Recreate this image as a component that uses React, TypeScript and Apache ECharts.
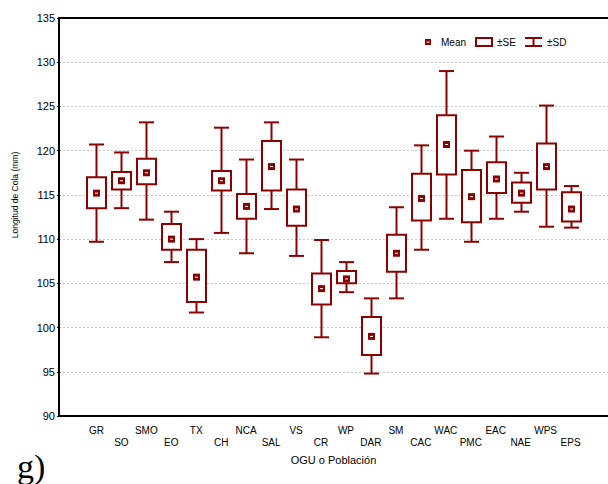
import React, { useEffect, useRef } from "react";
import * as echarts from "echarts";

const categories = ["GR", "SO", "SMO", "EO", "TX", "CH", "NCA", "SAL", "VS", "CR", "WP", "DAR", "SM", "CAC", "WAC", "PMC", "EAC", "NAE", "WPS", "EPS"];
const means = [115.2, 116.6, 117.5, 110.0, 105.7, 116.6, 113.7, 118.2, 113.4, 104.4, 105.5, 99.0, 108.4, 114.6, 120.7, 114.8, 116.8, 115.2, 118.2, 113.4];
const seLow = [113.5, 115.6, 116.2, 108.8, 102.9, 115.5, 112.3, 115.5, 111.5, 102.6, 105.0, 96.9, 106.3, 112.1, 117.3, 111.9, 115.2, 114.1, 115.6, 112.0];
const seHigh = [117.0, 117.6, 119.1, 111.7, 108.8, 117.7, 115.1, 121.1, 115.6, 106.1, 106.4, 101.2, 110.5, 117.4, 124.0, 117.8, 118.7, 116.4, 120.8, 115.3];
const sdLow = [109.7, 113.5, 112.2, 107.4, 101.7, 110.7, 108.4, 113.4, 108.1, 98.9, 104.0, 94.8, 103.3, 108.8, 112.3, 109.7, 112.3, 113.1, 111.4, 111.3];
const sdHigh = [120.7, 119.8, 123.2, 113.1, 110.0, 122.6, 119.0, 123.2, 119.0, 109.9, 107.4, 103.3, 113.6, 120.6, 129.0, 120.0, 121.6, 117.5, 125.1, 116.0];
const yTicks = { min: 90, max: 135, interval: 5 };

const RED = "#8b0000";
const FONT = "Liberation Sans, Arial, sans-serif";

export default function App() {
  const ref = useRef<HTMLDivElement>(null);
  useEffect(() => {
    if (!ref.current) return;
    const chart = echarts.init(ref.current, undefined, { renderer: "svg" });
    const axisCats = ["", ...categories, ""];
    const data = categories.map((c, i) => [i + 1, means[i], seLow[i], seHigh[i], sdLow[i], sdHigh[i]]);

    const renderItem = (params: any, api: any) => {
      const idx = api.value(0);
      const pMean = api.coord([idx, api.value(1)]);
      const pSeL = api.coord([idx, api.value(2)]);
      const pSeH = api.coord([idx, api.value(3)]);
      const pSdL = api.coord([idx, api.value(4)]);
      const pSdH = api.coord([idx, api.value(5)]);
      const x = Math.round(pMean[0]) + 0.5;
      const boxHalf = 9.5;
      const capHalf = 7.5;
      const lineStyle = { stroke: RED, lineWidth: 2, fill: null };
      return {
        type: "group",
        children: [
          { type: "line", shape: { x1: x, y1: pSdL[1], x2: x, y2: pSdH[1] }, style: lineStyle },
          { type: "line", shape: { x1: x - capHalf, y1: pSdL[1], x2: x + capHalf, y2: pSdL[1] }, style: lineStyle },
          { type: "line", shape: { x1: x - capHalf, y1: pSdH[1], x2: x + capHalf, y2: pSdH[1] }, style: lineStyle },
          {
            type: "rect",
            shape: { x: x - boxHalf, y: pSeH[1], width: boxHalf * 2, height: pSeL[1] - pSeH[1] },
            style: { stroke: RED, lineWidth: 2, fill: "#ffffff" },
          },
          { type: "rect", shape: { x: x - 3.5, y: pMean[1] - 3.5, width: 7, height: 7 }, style: { fill: RED } },
          { type: "rect", shape: { x: x - 1.5, y: pMean[1] - 0.5, width: 3, height: 1 }, style: { fill: "#ffffff" } },
        ],
      };
    };

    chart.setOption({
      animation: false,
      backgroundColor: "#ffffff",
      textStyle: { fontFamily: FONT },
      grid: { left: 59, top: 18, width: 554, bottom: 68, containLabel: false },
      xAxis: [
        {
          type: "category",
          data: axisCats,
          boundaryGap: true,
          position: "bottom",
          name: "OGU o Población",
          nameLocation: "middle",
          nameGap: 38,
          nameTextStyle: { fontSize: 11, color: "#000", fontFamily: FONT },
          axisLine: { lineStyle: { color: "#000", width: 2 } },
          axisTick: { alignWithLabel: true, inside: true, length: 3, lineStyle: { color: "#000", width: 1 } },
          axisLabel: {
            interval: 0,
            fontSize: 10,
            color: "#000",
            margin: 8,
            lineHeight: 12,
            fontFamily: FONT,
            formatter: (v: string, i: number) => (i % 2 === 0 ? "\n" + v : v),
          },
          splitLine: { show: false },
        },
        {
          type: "category",
          data: axisCats,
          boundaryGap: true,
          position: "top",
          axisLine: { lineStyle: { color: "#000", width: 2 } },
          axisTick: { alignWithLabel: true, inside: true, length: 3, lineStyle: { color: "#000", width: 1 } },
          axisLabel: { show: false },
          splitLine: { show: false },
        },
      ],
      yAxis: {
        type: "value",
        min: yTicks.min,
        max: yTicks.max,
        interval: yTicks.interval,
        axisLine: { show: true, lineStyle: { color: "#000", width: 2 } },
        axisTick: { show: true, inside: false, length: 2, lineStyle: { color: "#000", width: 1 } },
        axisLabel: { fontSize: 11, color: "#000", margin: 4, fontFamily: FONT },
        splitLine: { show: true, lineStyle: { color: "#c8c8c8", type: [2, 2], width: 1 } },
      },
      series: [
        {
          name: "Mean ±SE ±SD",
          type: "custom",
          renderItem,
          encode: { x: 0, y: [1, 2, 3, 4, 5] },
          data,
          z: 5,
        },
      ],
      graphic: [
        {
          type: "text",
          x: 15,
          y: 195,
          rotation: Math.PI / 2,
          style: { text: "Longitud de Cola (mm)", fill: "#000", font: "8.5px " + FONT, align: "center", verticalAlign: "middle" },
        },
        { type: "rect", shape: { x: 425, y: 39, width: 6, height: 6 }, style: { fill: RED } },
        { type: "rect", shape: { x: 426.5, y: 41.5, width: 3, height: 1 }, style: { fill: "#fff" } },
        { type: "text", x: 441, y: 42, style: { text: "Mean", fill: "#000", font: "10px " + FONT, verticalAlign: "middle" } },
        { type: "rect", shape: { x: 476, y: 38, width: 16, height: 8 }, style: { stroke: RED, lineWidth: 2, fill: "#fff" } },
        { type: "text", x: 497, y: 42, style: { text: "±SE", fill: "#000", font: "10px " + FONT, verticalAlign: "middle" } },
        { type: "line", shape: { x1: 525, y1: 38, x2: 542, y2: 38 }, style: { stroke: RED, lineWidth: 2 } },
        { type: "line", shape: { x1: 525, y1: 46, x2: 542, y2: 46 }, style: { stroke: RED, lineWidth: 2 } },
        { type: "line", shape: { x1: 533.5, y1: 38, x2: 533.5, y2: 46 }, style: { stroke: RED, lineWidth: 2 } },
        { type: "text", x: 547, y: 42, style: { text: "±SD", fill: "#000", font: "10px " + FONT, verticalAlign: "middle" } },
        { type: "text", x: 17, y: 466, style: { text: "g)", fill: "#000", font: "34px Liberation Serif, Times New Roman, serif", verticalAlign: "middle" } },
      ],
    });
    return () => chart.dispose();
  }, []);
  return <div ref={ref} style={{ position: "fixed", left: 0, top: 0, width: 608, height: 484 }} />;
}
